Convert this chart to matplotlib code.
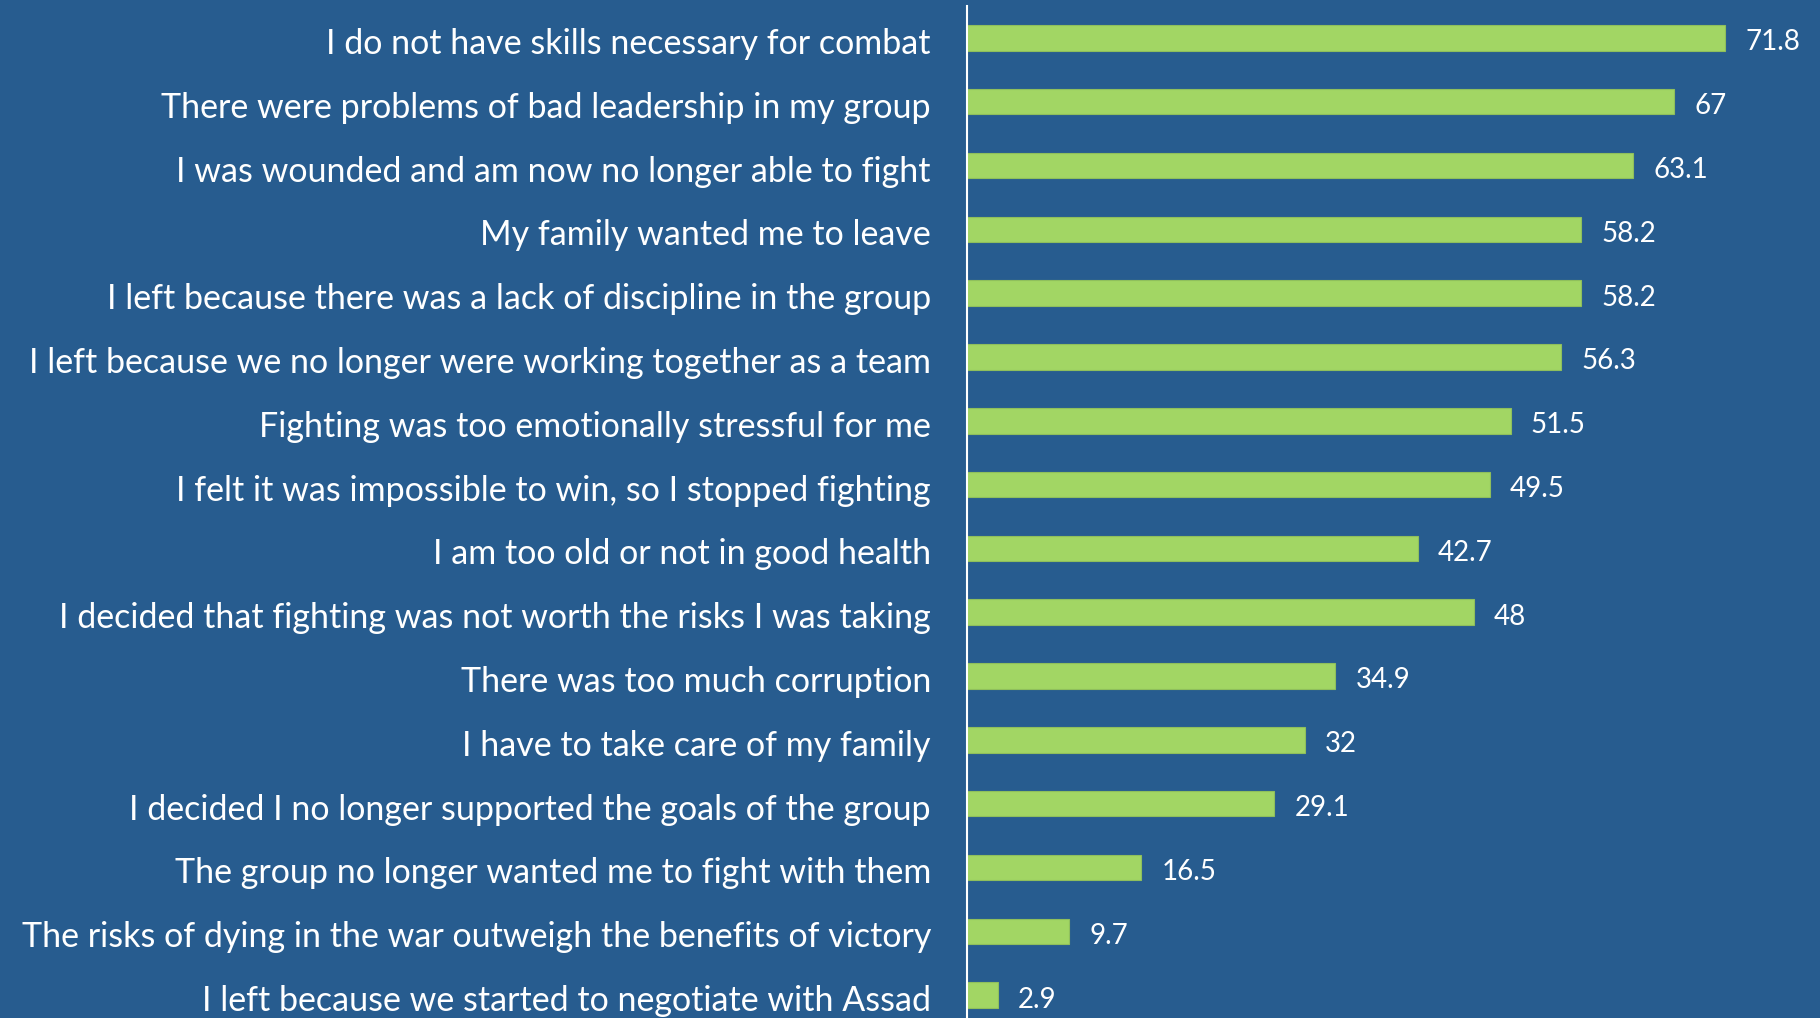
import matplotlib.pyplot as plt
import matplotlib.transforms as mtransforms

reasons = [
    "I do not have skills necessary for combat",
    "There were problems of bad leadership in my group",
    "I was wounded and am now no longer able to fight",
    "My family wanted me to leave",
    "I left because there was a lack of discipline in the group",
    "I left because we no longer were working together as a team",
    "Fighting was too emotionally stressful for me",
    "I felt it was impossible to win, so I stopped fighting",
    "I am too old or not in good health",
    "I decided that fighting was not worth the risks I was taking",
    "There was too much corruption",
    "I have to take care of my family",
    "I decided I no longer supported the goals of the group",
    "The group no longer wanted me to fight with them",
    "The risks of dying in the war outweigh the benefits of victory",
    "I left because we started to negotiate with Assad",
]
values = [71.8, 67, 63.1, 58.2, 58.2, 56.3, 51.5, 49.5, 42.7, 48, 34.9, 32, 29.1, 16.5, 9.7, 2.9]
labels = ["71.8", "67", "63.1", "58.2", "58.2", "56.3", "51.5", "49.5", "42.7", "48",
          "34.9", "32", "29.1", "16.5", "9.7", "2.9"]

bg = "#275C8F"
plt.rcParams['font.family'] = ['Lato', 'DejaVu Sans']

fig = plt.figure(figsize=(18.2, 10.18), dpi=100, facecolor=bg)
ax = fig.add_axes([967 / 1820, 1 - 1027 / 1018, 1 - 967 / 1820, (1027 - 6) / 1018])
ax.set_facecolor(bg)

y = list(range(len(reasons)))
ax.barh(y, values, height=0.4, color="#A2D664", edgecolor="#8FBF5C", linewidth=0.8)
for yi, v, lab in zip(y, values, labels):
    ax.text(v + 1.9, yi + 0.07, lab, va="center", ha="left", color="white", fontsize=20)

ax.set_ylim(len(reasons) - 0.5, -0.5)
ax.set_xlim(0, 80.8)
ax.set_yticks(y)
ax.set_yticklabels(reasons, fontsize=24.5, color="white")
ax.tick_params(axis="y", length=0, pad=26)
shift = mtransforms.ScaledTranslation(0, -3 / 100, fig.dpi_scale_trans)
for t in ax.get_yticklabels():
    t.set_transform(t.get_transform() + shift)
ax.set_xticks([])
for s in ["top", "right", "bottom"]:
    ax.spines[s].set_visible(False)
ax.spines["left"].set_color("white")
ax.spines["left"].set_linewidth(1.5)

fig.savefig("out.png", dpi=100, facecolor=bg)
